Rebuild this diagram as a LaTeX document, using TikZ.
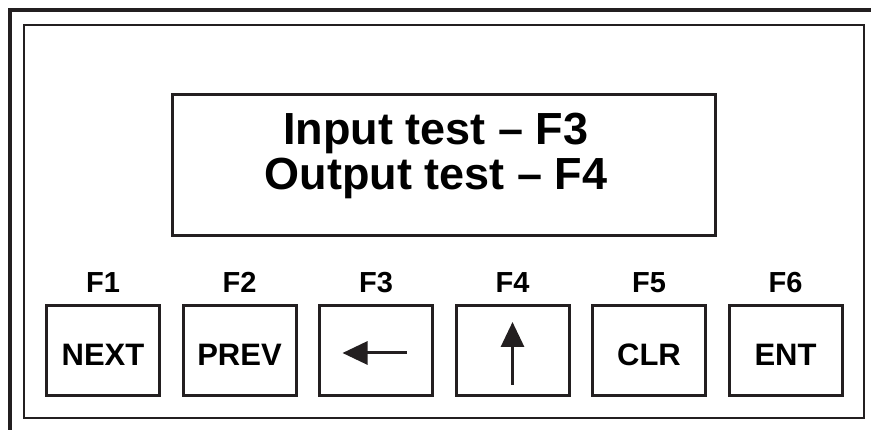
\documentclass[tikz,border=0pt]{standalone}
\usepackage{fontspec}
\setmainfont{Liberation Sans}
\usetikzlibrary{arrows.meta, positioning}
\definecolor{panelInk}{RGB}{35,31,32}

\begin{document}
\begin{tikzpicture}[x=1pt, y=1pt,
    keybox/.style={draw=panelInk, line width=3pt, outer sep=0pt, inner sep=0pt,
      minimum width=113pt, minimum height=90pt, text height=31pt, text depth=0pt,
      font=\fontsize{31}{31}\selectfont\bfseries},
    fkey/.style={font=\fontsize{29}{29}\selectfont\bfseries, anchor=base},
    keyarrow/.style={-{Triangle[length=25pt,width=23pt]}, line width=3pt, draw=panelInk},
    node distance=23.5pt
  ]
    \useasboundingbox (0,0) rectangle (871,430);
    % panel frames
    \draw[panelInk, line width=4pt] (10,0) -- (10,420) -- (871,420);
    \draw[panelInk, line width=1.3pt] (24,12) rectangle (864,405);
    % display
    \node[draw=panelInk, line width=3pt, outer sep=0pt,
      minimum width=543pt, minimum height=141pt] (lcd) at (444,265) {};
    \node[font=\fontsize{45}{45}\selectfont\bfseries, align=center] (msg)
      at ([xshift=-8pt,yshift=9pt]lcd.center) {Input test -- F3\\Output test -- F4};
    % keys
    \node[keybox] (next) at (103,79.5) {NEXT};
    \node[keybox, right=of next] (prev) {PREV};
    \node[keybox, right=of prev] (left) {};
    \node[keybox, right=of left] (up) {};
    \node[keybox, right=of up] (clr) {CLR};
    \node[keybox, right=of clr] (ent) {ENT};
    \node[fkey] (f1) at ([yshift=12.5pt]next.north) {F1};
    \node[fkey] (f2) at ([yshift=12.5pt]prev.north) {F2};
    \node[fkey] (f3) at ([yshift=12.5pt]left.north) {F3};
    \node[fkey] (f4) at ([yshift=12.5pt]up.north) {F4};
    \node[fkey] (f5) at ([yshift=12.5pt]clr.north) {F5};
    \node[fkey] (f6) at ([yshift=12.5pt]ent.north) {F6};
    % arrow glyphs
    \draw[keyarrow] ([xshift=30.5pt,yshift=-2.5pt]left.center) -- ([xshift=-33.5pt,yshift=-2.5pt]left.center);
    \draw[keyarrow] ([yshift=-34.5pt]up.center) -- ([yshift=28.5pt]up.center);
  \end{tikzpicture}
\end{document}
